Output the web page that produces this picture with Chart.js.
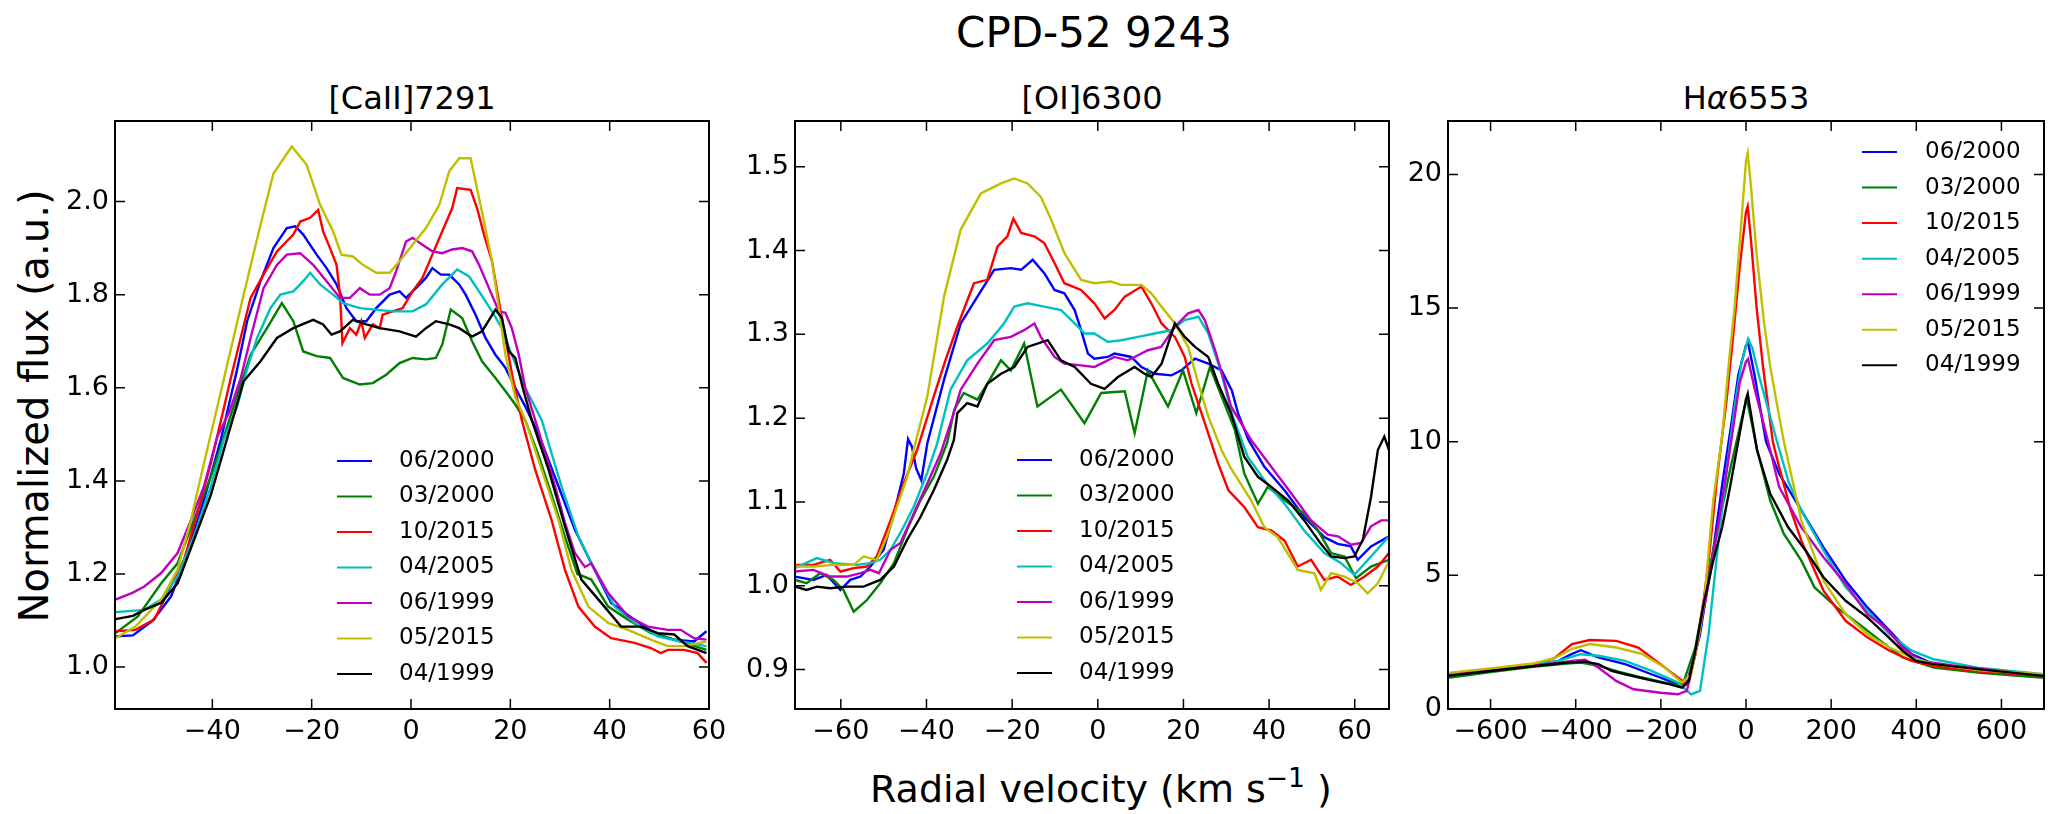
<!DOCTYPE html>
<html lang="en">
<head>
<meta charset="UTF-8">
<title>CPD-52 9243</title>
<script src="https://cdn.jsdelivr.net/npm/chart.js"></script>
<style>
  html, body { margin: 0; padding: 0; background: #fff; }
  body { width: 2052px; height: 814px; position: relative; overflow: hidden; font-family: "DejaVu Sans", sans-serif; color: #000; }
  .txt { position: absolute; white-space: nowrap; text-align: center; }
  canvas { position: absolute; }
  sup { font-size: 0.7em; vertical-align: 0.55em; line-height: 0; }
</style>
</head>
<body>
  <div class="txt" style="left:794px; top:12px; width:600px; font-size:42px; line-height:42px;">CPD-52 9243</div>
  <div class="txt" style="left:112px; top:82px; width:600px; font-size:32px; line-height:32px;">[CaII]7291</div>
  <div class="txt" style="left:792px; top:82px; width:600px; font-size:32px; line-height:32px;">[OI]6300</div>
  <div class="txt" style="left:1446px; top:82px; width:600px; font-size:32px; line-height:32px;">H<i>α</i>6553</div>
  <div class="txt" style="left:-266px; top:386px; width:600px; height:40px; font-size:40px; line-height:40px; transform:rotate(-90deg);">Normalized flux (a.u.)</div>
  <div class="txt" style="left:701px; top:770px; width:800px; font-size:38px; line-height:38px;">Radial velocity (km s<sup>−1</sup> )</div>

  <canvas id="c1" width="734" height="668" style="left:15px; top:101px;"></canvas>
  <canvas id="c2" width="734" height="668" style="left:695px; top:101px;"></canvas>
  <canvas id="c3" width="704" height="668" style="left:1348px; top:101px;"></canvas>

<script>
// epochs, same order in every panel
const LABELS = ['06/2000', '03/2000', '10/2015', '04/2005', '06/1999', '05/2015', '04/1999'];
const COLORS = ['#0000ff', '#008000', '#ff0000', '#00bfbf', '#bf00bf', '#bfbf00', '#000000'];

// tick values
const X1_TICKS = [-40, -20, 0, 20, 40, 60];
const Y1_TICKS = [1.0, 1.2, 1.4, 1.6, 1.8, 2.0];
const X2_TICKS = [-60, -40, -20, 0, 20, 40, 60];
const Y2_TICKS = [0.9, 1.0, 1.1, 1.2, 1.3, 1.4, 1.5];
const X3_TICKS = [-600, -400, -200, 0, 200, 400, 600];
const Y3_TICKS = [0, 5, 10, 15, 20];

// [CaII]7291  -- [velocity, flux]
const CA_0600 = [[-59.5,1.066],[-56,1.068],[-52,1.1],[-48.3,1.152],[-45,1.245],[-41.7,1.359],[-38.3,1.488],[-35,1.64],[-33,1.743],[-30.3,1.829],[-27.7,1.9],[-25,1.943],[-23.3,1.947],[-21.7,1.929],[-19,1.886],[-17,1.857],[-15,1.822],[-13,1.771],[-11,1.743],[-9,1.743],[-7,1.771],[-4.3,1.8],[-2.3,1.807],[-1,1.793],[1,1.814],[3,1.836],[4.3,1.857],[6,1.843],[7.7,1.843],[9.7,1.822],[11,1.8],[13,1.757],[15,1.707],[17,1.671],[19,1.643],[21,1.6],[23,1.56],[25.7,1.5],[27.5,1.45],[29.7,1.388],[33,1.295],[36.3,1.223],[40.3,1.138],[45,1.102],[49,1.073],[53,1.059],[57,1.055],[59.5,1.077]];
const CA_0300 = [[-59.5,1.073],[-55,1.109],[-50.3,1.18],[-47,1.223],[-43.7,1.316],[-40.3,1.409],[-37,1.517],[-34.5,1.6],[-32.3,1.671],[-29,1.728],[-26,1.782],[-23.7,1.743],[-21.7,1.678],[-19,1.668],[-16.3,1.664],[-13.7,1.621],[-10.3,1.607],[-7.7,1.61],[-5,1.628],[-2.3,1.653],[0.3,1.664],[3,1.661],[5,1.664],[6.3,1.693],[8,1.768],[10.3,1.75],[12.3,1.7],[14.3,1.657],[17,1.621],[19,1.593],[21,1.564],[23,1.53],[25.5,1.46],[28.3,1.37],[31,1.28],[33.5,1.2],[36.3,1.188],[39.7,1.13],[43.7,1.102],[48.3,1.073],[53,1.059],[59.5,1.037]];
const CA_1015 = [[-59.5,1.077],[-55.5,1.08],[-51.7,1.102],[-49,1.159],[-45.7,1.231],[-43,1.331],[-40.3,1.438],[-38.3,1.528],[-36.3,1.62],[-34.3,1.707],[-32.3,1.793],[-29.7,1.843],[-27,1.893],[-23.7,1.929],[-22.3,1.957],[-20.3,1.965],[-18.7,1.982],[-17.7,1.936],[-16.3,1.9],[-15,1.864],[-14.3,1.8],[-13.8,1.696],[-12.3,1.728],[-11,1.714],[-10,1.743],[-9.3,1.707],[-7.7,1.736],[-6.3,1.728],[-5.7,1.757],[-3.7,1.764],[-1.7,1.771],[0.3,1.807],[2.3,1.836],[4.3,1.886],[6.3,1.936],[8.3,1.986],[9.3,2.029],[12,2.025],[13.3,1.986],[14.7,1.929],[16.3,1.872],[17.7,1.786],[19,1.707],[20.5,1.62],[22.3,1.531],[25,1.424],[28.3,1.316],[31,1.209],[33.7,1.13],[37,1.087],[40.3,1.062],[45,1.052],[48.3,1.041],[50.3,1.03],[51.7,1.037],[55,1.037],[57.7,1.03],[59.5,1.009]];
const CA_0405 = [[-59.5,1.118],[-53.7,1.123],[-50.3,1.145],[-47,1.195],[-43.7,1.281],[-40.3,1.388],[-37.7,1.488],[-35,1.56],[-33,1.64],[-31,1.707],[-28.3,1.771],[-26.3,1.8],[-23.7,1.807],[-21.7,1.829],[-20.3,1.847],[-18.3,1.822],[-15.7,1.8],[-13.7,1.782],[-10.3,1.771],[-3.7,1.764],[0.3,1.764],[3,1.779],[6.3,1.822],[9.3,1.854],[11.7,1.839],[13.7,1.807],[16.3,1.764],[18.3,1.728],[20.3,1.67],[23,1.6],[26.3,1.531],[30.3,1.388],[33.7,1.281],[37,1.209],[41,1.13],[45,1.095],[49.7,1.066],[54.3,1.055],[59.5,1.045]];
const CA_0699 = [[-59.5,1.145],[-56,1.16],[-53.7,1.173],[-50.3,1.202],[-47,1.245],[-44.3,1.316],[-41.7,1.388],[-39,1.495],[-36.5,1.55],[-34.3,1.62],[-32.3,1.707],[-29.7,1.814],[-27,1.864],[-25,1.886],[-22.3,1.889],[-19.7,1.864],[-17,1.829],[-14.3,1.793],[-12.3,1.793],[-10.3,1.814],[-8.3,1.8],[-6.3,1.8],[-4.3,1.814],[-3,1.85],[-1,1.914],[0.3,1.922],[2.3,1.907],[4.3,1.893],[6.3,1.889],[8.3,1.897],[10.3,1.9],[12.3,1.893],[13.7,1.864],[15.7,1.814],[17.7,1.764],[19,1.761],[20.3,1.728],[21.7,1.671],[23,1.6],[25,1.531],[27,1.46],[29,1.388],[31,1.31],[33,1.245],[35,1.215],[36.3,1.223],[39.7,1.159],[43.7,1.109],[47.7,1.087],[51.7,1.08],[54.3,1.08],[57,1.062],[59.5,1.059]];
const CA_0515 = [[-59.5,1.062],[-55.5,1.087],[-50.3,1.145],[-47,1.209],[-44.3,1.316],[-42.3,1.41],[-40.3,1.5],[-37,1.65],[-33.7,1.8],[-30.3,1.95],[-27.7,2.06],[-24,2.118],[-21,2.079],[-18.3,1.993],[-15.7,1.936],[-14,1.886],[-11.7,1.882],[-9.7,1.864],[-7,1.847],[-4.3,1.847],[-2.3,1.872],[0.3,1.907],[3,1.943],[5.7,1.993],[7.7,2.065],[9.7,2.093],[12,2.093],[13,2.043],[14.7,1.957],[16.3,1.872],[17.7,1.771],[19,1.671],[21,1.58],[23,1.531],[26.3,1.424],[29.7,1.316],[32.3,1.209],[35.7,1.13],[39.7,1.095],[43.7,1.08],[48.3,1.059],[51.7,1.045],[55,1.045],[59.5,1.055]];
const CA_0499 = [[-59.5,1.103],[-56,1.11],[-53.7,1.123],[-50.3,1.138],[-47,1.18],[-43.7,1.273],[-40.3,1.37],[-37,1.492],[-33.7,1.614],[-30.3,1.657],[-27,1.707],[-23.7,1.728],[-19.7,1.746],[-17.7,1.736],[-16,1.714],[-14.3,1.721],[-11.7,1.746],[-9,1.736],[-6.3,1.728],[-2.3,1.721],[1,1.71],[3,1.728],[5,1.743],[7.7,1.736],[9.7,1.728],[12.3,1.71],[14.3,1.721],[17,1.768],[18.3,1.75],[19.7,1.678],[21,1.664],[22.5,1.6],[24.3,1.531],[27.7,1.424],[31,1.302],[34.3,1.188],[38.3,1.138],[42.3,1.087],[46.3,1.087],[49.7,1.073],[53,1.07],[55.7,1.045],[59.5,1.03]];

// [OI]6300
const OI_0600 = [[-70.7,1.011],[-66.4,1.007],[-63.3,1.013],[-60.1,0.995],[-57.8,1.007],[-55.4,1.011],[-53.1,1.023],[-50,1.043],[-47.6,1.086],[-45.3,1.134],[-44.3,1.175],[-43.4,1.166],[-42.4,1.14],[-41.2,1.126],[-39.8,1.17],[-35.9,1.246],[-32,1.313],[-28.1,1.345],[-24.2,1.377],[-20.3,1.379],[-17.9,1.377],[-15.2,1.389],[-12.5,1.373],[-10.1,1.353],[-7.8,1.349],[-5.4,1.329],[-3.9,1.305],[-2.3,1.277],[-0.8,1.271],[2.3,1.273],[3.9,1.277],[7.8,1.273],[10.2,1.261],[13.3,1.253],[17.2,1.251],[19.5,1.257],[22.7,1.271],[25.8,1.265],[28.9,1.257],[31.3,1.233],[32.8,1.205],[35.2,1.174],[38.9,1.142],[43.6,1.114],[48.2,1.082],[52.9,1.058],[56,1.05],[59.1,1.047],[60.7,1.031],[63.8,1.047],[68,1.059]];
const OI_0300 = [[-70.7,1.007],[-68,1.003],[-64.8,1.015],[-61.7,1.007],[-59.4,0.995],[-57,0.969],[-53.9,0.983],[-50.8,1.003],[-47.6,1.027],[-44.5,1.067],[-41.4,1.102],[-38.3,1.13],[-35.2,1.17],[-33.5,1.21],[-31.3,1.23],[-28.1,1.222],[-25.8,1.241],[-22.6,1.269],[-20.3,1.257],[-17.2,1.289],[-14.1,1.214],[-8.6,1.234],[-3.1,1.194],[0.8,1.23],[6.3,1.232],[8.6,1.182],[11.7,1.257],[16.4,1.214],[19.9,1.257],[23,1.206],[26.2,1.261],[28.9,1.226],[32,1.186],[34.2,1.134],[37.4,1.098],[39.7,1.118],[43.6,1.102],[48.2,1.086],[51.4,1.066],[54.5,1.039],[57.6,1.035],[60.3,1.009],[63.8,1.023],[68,1.031]];
const OI_1015 = [[-70.7,1.025],[-66.4,1.025],[-62.5,1.031],[-60.1,1.017],[-57,1.021],[-53.9,1.023],[-51.6,1.035],[-48.4,1.078],[-45.3,1.122],[-42.2,1.162],[-38.3,1.226],[-35.5,1.27],[-32.8,1.309],[-30.5,1.34],[-28.9,1.361],[-25.8,1.365],[-23.4,1.405],[-21.1,1.417],[-19.7,1.438],[-17.9,1.421],[-14.8,1.417],[-12.5,1.409],[-10.1,1.385],[-7.8,1.361],[-3.9,1.353],[-0.8,1.337],[1.6,1.319],[3.9,1.329],[6.3,1.345],[10.2,1.357],[12.5,1.337],[14.9,1.313],[18,1.297],[20.3,1.273],[21.9,1.241],[25,1.194],[28.1,1.146],[30.5,1.114],[34.2,1.094],[37.4,1.07],[40.5,1.066],[43.6,1.054],[46.7,1.023],[49.8,1.031],[52.9,1.007],[56,1.011],[59.1,1.001],[62.3,1.011],[65.4,1.023],[68,1.039]];
const OI_0405 = [[-70.7,1.021],[-65.6,1.033],[-61.7,1.027],[-56.3,1.025],[-53.1,1.027],[-50.8,1.031],[-48.4,1.043],[-46.1,1.063],[-43,1.094],[-39.8,1.135],[-37.5,1.17],[-34.4,1.234],[-30.5,1.269],[-25.8,1.289],[-21.9,1.313],[-19.5,1.333],[-16.4,1.337],[-12.5,1.333],[-8.6,1.329],[-5.4,1.313],[-3.1,1.301],[-0.8,1.301],[2.3,1.291],[5.5,1.293],[9.4,1.297],[13.3,1.301],[17.2,1.305],[20.3,1.317],[23.5,1.321],[25.8,1.301],[28.9,1.253],[31.3,1.205],[35,1.154],[38.9,1.126],[43.6,1.098],[48.2,1.066],[52.9,1.039],[56.8,1.027],[59.9,1.013],[63.8,1.035],[68,1.059]];
const OI_0699 = [[-70.7,1.017],[-66.4,1.019],[-62.5,1.011],[-58.6,1.011],[-55.4,1.015],[-53.1,1.019],[-51.1,1.015],[-48.4,1.043],[-46.1,1.051],[-43,1.086],[-39.8,1.122],[-36.7,1.158],[-34,1.2],[-32,1.234],[-28.1,1.265],[-24.2,1.293],[-20.3,1.297],[-17.2,1.305],[-14.8,1.313],[-13.3,1.297],[-10.1,1.273],[-7.8,1.265],[-3.9,1.263],[-0.8,1.261],[0.8,1.265],[3.9,1.273],[7,1.269],[8.6,1.273],[11.7,1.281],[14.8,1.285],[18,1.309],[21.1,1.325],[23.5,1.329],[25,1.317],[27.4,1.281],[29.7,1.241],[31.1,1.214],[35.8,1.174],[40.5,1.142],[45.2,1.11],[49.8,1.078],[53.7,1.061],[56.1,1.059],[59.2,1.049],[61.5,1.051],[63.8,1.071],[66.2,1.078],[68,1.078]];
const OI_0515 = [[-70.7,1.023],[-66.4,1.023],[-61.7,1.025],[-57,1.025],[-54.7,1.035],[-51.6,1.031],[-49.2,1.059],[-46.9,1.094],[-44.5,1.13],[-43,1.162],[-39.8,1.226],[-35.9,1.345],[-32,1.425],[-27.3,1.468],[-22.6,1.48],[-19.5,1.486],[-16.4,1.48],[-13.3,1.464],[-10.9,1.437],[-7.8,1.397],[-3.9,1.365],[-0.8,1.361],[3.1,1.363],[5.5,1.359],[10.2,1.359],[12.5,1.349],[14.9,1.333],[18,1.313],[21.1,1.285],[23.5,1.241],[25.8,1.202],[28.9,1.162],[31.1,1.14],[35.8,1.102],[38.9,1.07],[42,1.058],[46.7,1.019],[50.6,1.015],[52.1,0.995],[54.5,1.015],[57.6,1.011],[60.7,1.003],[63,0.991],[65.4,1.003],[68,1.029]];
const OI_0499 = [[-70.7,0.999],[-68,0.995],[-65.6,0.999],[-62.5,0.997],[-58.6,0.999],[-54.7,0.999],[-50.8,1.007],[-47.6,1.023],[-44.5,1.055],[-41.4,1.082],[-38.3,1.114],[-35.2,1.15],[-33.6,1.174],[-32.8,1.206],[-30.5,1.218],[-28.1,1.214],[-25.8,1.241],[-22.6,1.253],[-19.5,1.261],[-16.4,1.285],[-11.7,1.293],[-8.6,1.269],[-5.4,1.261],[-1.6,1.241],[1.6,1.235],[4.7,1.249],[8.6,1.261],[10.9,1.253],[12.5,1.249],[14.9,1.265],[18,1.313],[20.3,1.297],[22.7,1.285],[25.8,1.273],[28.1,1.241],[31.1,1.206],[34.2,1.154],[37.4,1.13],[40.5,1.118],[44.4,1.102],[48.2,1.078],[52.1,1.05],[54.5,1.035],[57.6,1.033],[59.9,1.035],[61.9,1.055],[63.8,1.106],[65.4,1.162],[66.9,1.178],[68,1.162]];

// Halpha 6553
const HA_0600 = [[-700,1.28],[-600,1.46],[-500,1.64],[-440,1.8],[-410,2.05],[-388,2.2],[-347,1.93],[-284,1.68],[-222,1.3],[-160,0.93],[-139,0.99],[-124,1.8],[-108,2.8],[-77,5.93],[-55,8.5],[-36,10.5],[-18,12.5],[0,13.6],[5,13.7],[20,12.5],[47,10],[78,8.8],[130,7.43],[182,6.05],[234,4.8],[285,3.8],[337,2.93],[389,2.05],[441,1.68],[550,1.45],[700,1.24]];
const HA_0300 = [[-700,1.17],[-600,1.38],[-500,1.58],[-420,1.7],[-388,1.74],[-347,1.62],[-300,1.4],[-250,1.2],[-200,1.02],[-150,0.86],[-119,2.3],[-77,5.93],[-36,9.05],[-5,11.2],[2,11.6],[16,10.5],[26,9.7],[57,7.8],[89,6.55],[130,5.55],[161,4.55],[213,3.8],[265,3.18],[316,2.55],[368,1.93],[441,1.55],[550,1.35],[700,1.17]];
const HA_1015 = [[-700,1.3],[-600,1.48],[-500,1.66],[-450,1.9],[-409,2.43],[-367,2.58],[-305,2.55],[-253,2.3],[-201,1.68],[-160,1.18],[-139,0.93],[-119,2.05],[-100,4],[-88,5.5],[-67,8.8],[-46,11.5],[-30,14],[-15,16.5],[0,18.6],[4,18.8],[12,17.5],[25,15],[40,12.8],[63,10],[78,9.05],[104,7.5],[130,6.3],[182,4.43],[234,3.3],[285,2.68],[337,2.18],[389,1.8],[441,1.61],[550,1.4],[700,1.24]];
const HA_0405 = [[-700,1.3],[-600,1.48],[-500,1.66],[-440,1.8],[-410,1.95],[-388,2.05],[-347,1.99],[-284,1.8],[-222,1.43],[-160,0.99],[-129,0.55],[-108,0.68],[-88,2.8],[-67,5.93],[-45,9],[-25,11.5],[-10,13],[5,13.85],[15,13.5],[30,12.5],[73,10],[100,8.5],[130,7.43],[182,5.93],[234,4.55],[285,3.68],[337,2.8],[389,2.18],[441,1.86],[544,1.55],[700,1.3]];
const HA_0699 = [[-700,1.3],[-600,1.47],[-500,1.64],[-440,1.72],[-409,1.8],[-378,1.84],[-347,1.55],[-305,1.05],[-264,0.74],[-201,0.61],[-160,0.55],[-139,0.68],[-119,2.05],[-88,4.68],[-56,7.8],[-35,10],[-15,12.2],[0,13],[5,13.1],[20,12],[52,10],[78,8.3],[130,6.8],[182,5.68],[234,4.68],[285,3.55],[327,3.05],[368,2.3],[410,1.8],[493,1.61],[700,1.24]];
const HA_0515 = [[-700,1.35],[-600,1.52],[-500,1.7],[-450,1.9],[-409,2.25],[-367,2.43],[-305,2.3],[-243,2.05],[-191,1.55],[-150,0.99],[-129,1.3],[-110,2.8],[-98,4.05],[-77,7.8],[-56,10.2],[-40,13],[-27,15],[-12,18],[0,20.5],[4,20.8],[12,19.5],[25,17],[42,14.5],[57,12.8],[75,11.2],[89,10],[130,7.05],[182,4.8],[234,3.55],[285,2.8],[337,2.3],[389,1.93],[441,1.68],[550,1.45],[700,1.3]];
const HA_0499 = [[-700,1.24],[-600,1.42],[-500,1.6],[-419,1.74],[-378,1.77],[-347,1.68],[-316,1.43],[-284,1.3],[-233,1.11],[-181,0.93],[-150,0.8],[-134,1.05],[-119,2.18],[-98,4.05],[-77,5.55],[-56,6.8],[-36,8.43],[-15,10.3],[0,11.6],[4,11.8],[10,11.2],[26,9.68],[57,8.05],[99,6.8],[140,5.93],[182,4.93],[234,4.05],[285,3.43],[327,2.8],[368,2.18],[399,1.8],[441,1.68],[544,1.49],[700,1.24]];

const FONT = 'DejaVu Sans';

function minus(v) {
  return v < 0 ? '\u2212' + Math.abs(v) : String(v);
}

// box + inward ticks on all four sides, like the old matplotlib style
const frameTicks = {
  id: 'frameTicks',
  afterDraw(chart) {
    const { ctx, chartArea: a, scales } = chart;
    const x = scales.x, y = scales.y;
    const len = 10;
    ctx.save();
    ctx.strokeStyle = '#000';
    ctx.lineWidth = 1.5;
    ctx.beginPath();
    x.ticks.forEach(t => {
      const px = x.getPixelForValue(t.value);
      if (px < a.left - 2 || px > a.right + 2) return;
      ctx.moveTo(px, a.bottom); ctx.lineTo(px, a.bottom - len);
      ctx.moveTo(px, a.top); ctx.lineTo(px, a.top + len);
    });
    y.ticks.forEach(t => {
      const py = y.getPixelForValue(t.value);
      if (py < a.top - 2 || py > a.bottom + 2) return;
      ctx.moveTo(a.left, py); ctx.lineTo(a.left + len, py);
      ctx.moveTo(a.right, py); ctx.lineTo(a.right - len, py);
    });
    ctx.stroke();
    ctx.lineWidth = 2;
    ctx.strokeRect(a.left, a.top, a.right - a.left, a.bottom - a.top);
    ctx.restore();
  }
};

// frameless legend placed inside the axes
const inlineLegend = {
  id: 'inlineLegend',
  afterDraw(chart, args, opts) {
    const { ctx, chartArea: a } = chart;
    ctx.save();
    ctx.font = opts.size + 'px "' + FONT + '"';
    ctx.textBaseline = 'middle';
    ctx.textAlign = 'left';
    chart.data.datasets.forEach((ds, i) => {
      const yy = a.top + opts.y + i * opts.row;
      ctx.strokeStyle = ds.borderColor;
      ctx.lineWidth = 2;
      ctx.beginPath();
      ctx.moveTo(a.left + opts.x, yy);
      ctx.lineTo(a.left + opts.x + opts.len, yy);
      ctx.stroke();
      ctx.fillStyle = '#000';
      ctx.fillText(ds.label, a.left + opts.tx, yy);
    });
    ctx.restore();
  }
};

function makePanel(id, series, xr, yr, xt, yt, yfmt, leg, padRight) {
  const datasets = series.map((s, i) => ({
    label: LABELS[i],
    data: s.map(p => ({ x: p[0], y: p[1] })),
    borderColor: COLORS[i],
    backgroundColor: COLORS[i],
    borderWidth: 2.4,
    pointRadius: 0,
    tension: 0,
    fill: false,
    order: series.length - 1 - i
  }));

  const tickFont = { family: FONT, size: 27 };

  return new Chart(document.getElementById(id), {
    type: 'line',
    data: { datasets },
    options: {
      responsive: false,
      animation: false,
      events: [],
      layout: { padding: { left: 0, top: 20, right: padRight, bottom: 0 } },
      plugins: {
        legend: { display: false },
        tooltip: { enabled: false },
        inlineLegend: leg
      },
      scales: {
        x: {
          type: 'linear',
          min: xr[0],
          max: xr[1],
          afterBuildTicks: s => { s.ticks = xt.map(v => ({ value: v })); },
          afterFit: s => { s.height = 60; s.paddingLeft = 0; s.paddingRight = 0; },
          grid: { display: false, drawTicks: false },
          border: { display: false },
          ticks: { autoSkip: false, maxRotation: 0, padding: 7, color: '#000', font: tickFont, callback: v => minus(v) }
        },
        y: {
          type: 'linear',
          min: yr[0],
          max: yr[1],
          afterBuildTicks: s => { s.ticks = yt.map(v => ({ value: v })); },
          afterFit: s => { s.width = 100; s.paddingTop = 0; s.paddingBottom = 0; },
          grid: { display: false, drawTicks: false },
          border: { display: false },
          ticks: { autoSkip: false, padding: 6, color: '#000', font: tickFont, callback: v => yfmt(v) }
        }
      }
    },
    plugins: [frameTicks, inlineLegend]
  });
}

const oneDec = v => v.toFixed(1);

makePanel('c1', [CA_0600, CA_0300, CA_1015, CA_0405, CA_0699, CA_0515, CA_0499],
  [-59.6, 60], [0.91, 2.173], X1_TICKS, Y1_TICKS, oneDec,
  { x: 222, len: 35, tx: 284, y: 340, row: 35.5, size: 23 }, 40);

makePanel('c2', [OI_0600, OI_0300, OI_1015, OI_0405, OI_0699, OI_0515, OI_0499],
  [-70.7, 68.0], [0.853, 1.5545], X2_TICKS, Y2_TICKS, oneDec,
  { x: 222, len: 35, tx: 284, y: 339, row: 35.5, size: 23 }, 40);

makePanel('c3', [HA_0600, HA_0300, HA_1015, HA_0405, HA_0699, HA_0515, HA_0499],
  [-700, 700], [0, 22], X3_TICKS, Y3_TICKS, v => String(v),
  { x: 414, len: 35, tx: 477, y: 31, row: 35.55, size: 23 }, 8);
</script>
</body>
</html>
